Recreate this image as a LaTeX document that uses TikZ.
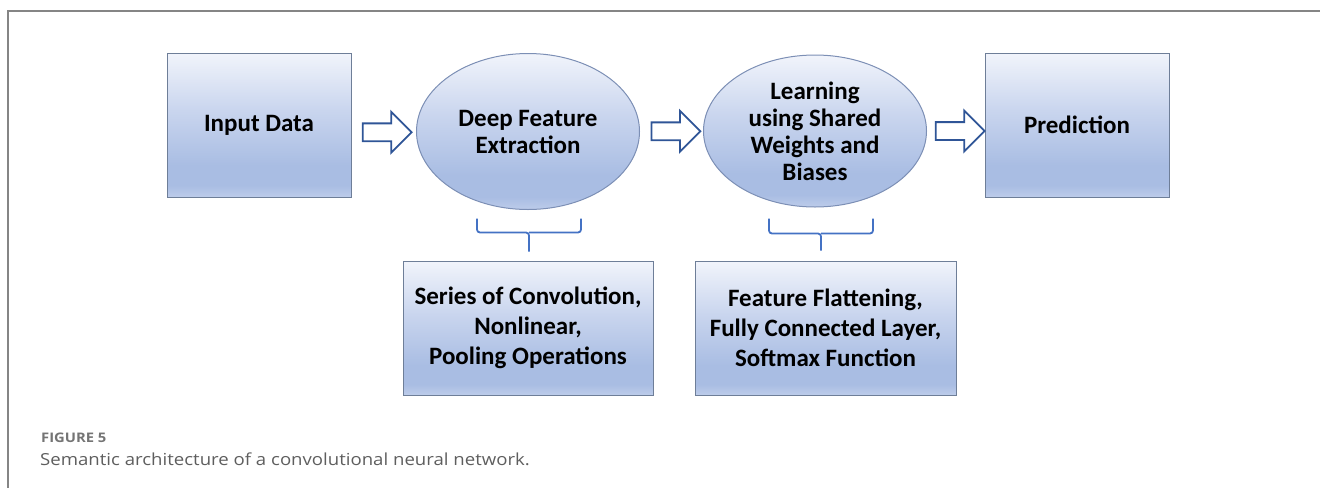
\documentclass[tikz,border=0pt]{standalone}
\usepackage{fontspec}
\setmainfont{Carlito}
\newfontfamily\capfont[FakeStretch=1.12]{Open Sans}
\usetikzlibrary{shapes.geometric,shapes.arrows,calc}
\definecolor{topc}{HTML}{F1F4FB}
\definecolor{midc}{HTML}{C9D5EE}
\definecolor{darkc}{HTML}{A9BDE3}
\definecolor{botc}{HTML}{BDCCEA}
\definecolor{edgec}{HTML}{6E7E98}
\definecolor{ellc}{HTML}{7C8FB5}
\definecolor{arrc}{HTML}{2F5597}
\definecolor{bracec}{HTML}{4472C4}
\definecolor{framec}{HTML}{858585}
\definecolor{capc}{HTML}{5E5E5E}
\definecolor{figc}{HTML}{747474}
\pgfdeclareverticalshading{office}{100bp}{color(0bp)=(botc); color(25bp)=(botc); color(29bp)=(darkc); color(36bp)=(darkc); color(55bp)=(midc); color(75bp)=(topc); color(100bp)=(topc)}
\tikzset{
  box/.style={rectangle, draw=edgec, line width=1pt, shading=office, align=center, inner sep=0pt,
    font=\fontsize{25}{27}\selectfont\bfseries},
  ell/.style={ellipse, draw=ellc, line width=1pt, shading=office, align=center, inner sep=0pt,
    font=\fontsize{25}{27}\selectfont\bfseries},
  subbox/.style={rectangle, draw=edgec, line width=1pt, shading=office, align=center, inner sep=0pt,
    font=\fontsize{25}{30}\selectfont\bfseries},
  blockarrow/.style={single arrow, draw=arrc, fill=white, line width=1.8pt, minimum height=49pt,
    inner xsep=0pt, inner ysep=8pt, single arrow head extend=11.5pt, single arrow head indent=0pt},
  bracepath/.style={draw=bracec, line width=1.8pt, rounded corners=3pt},
  framepath/.style={draw=framec, line width=1.5pt}
}
\begin{document}
\begin{tikzpicture}[x=1pt,y=-1pt]
\useasboundingbox (0,0) rectangle (1320,488);
% frame
\coordinate (fr1) at (1320,11);
\coordinate (fr2) at (8,11);
\coordinate (fr3) at (8,488);
\draw[framepath] (fr1) -- (fr2) -- (fr3);
% main row
\node[box, minimum width=184pt, minimum height=144pt] (in) at (259,125) {Input Data};
\node[ell, minimum width=223pt, minimum height=156pt] (e1) at (528,131.5) {Deep Feature\\Extraction};
\node[ell, minimum width=223pt, minimum height=152pt] (e2) at (815,131) {Learning\\using Shared\\Weights and\\Biases};
\node[box, minimum width=184pt, minimum height=144pt] (pr) at (1077,125) {Prediction};
% arrows
\node[blockarrow] (a1) at ($(in.east)!0.5!(e1.west)+(-1,4)$) {};
\node[blockarrow] (a2) at ($(e1.east)!0.5!(e2.west)$) {};
\node[blockarrow] (a3) at ($(e2.east)!0.5!(pr.west)+(0,3)$) {};
% sub boxes
\node[subbox, minimum width=250pt, minimum height=134pt] (s1) at (528,328) {Series of Convolution,\\Nonlinear,\\Pooling Operations};
\node[subbox, minimum width=261pt, minimum height=134pt] (s2) at (825.5,328) {Feature Flattening,\\Fully Connected Layer,\\Softmax Function};
% braces
\coordinate (b1) at ($(s1.north)+(1,-9)$);
\coordinate (b2) at ($(s2.north)+(-4.5,-10)$);
\draw[bracepath] ($(b1)+(-52,-33)$) -- ($(b1)+(-52,-19)$) -- ($(b1)+(0,-19)$) -- (b1);
\draw[bracepath] ($(b1)+(52,-33)$) -- ($(b1)+(52,-19)$) -- ($(b1)+(0,-19)$);
\draw[bracepath] ($(b2)+(-52,-32)$) -- ($(b2)+(-52,-17)$) -- ($(b2)+(0,-17)$) -- (b2);
\draw[bracepath] ($(b2)+(52,-32)$) -- ($(b2)+(52,-17)$) -- ($(b2)+(0,-17)$);
% caption
\node[anchor=base west, inner sep=0pt, text=figc, font=\capfont\bfseries\fontsize{13.2}{16}\selectfont] (fig) at (41,442) {FIGURE 5};
\node[anchor=base west, inner sep=0pt, text=capc, font=\capfont\fontsize{16.6}{20}\selectfont] (cap) at (40,465) {Semantic architecture of a convolutional neural network.};
\end{tikzpicture}
\end{document}
